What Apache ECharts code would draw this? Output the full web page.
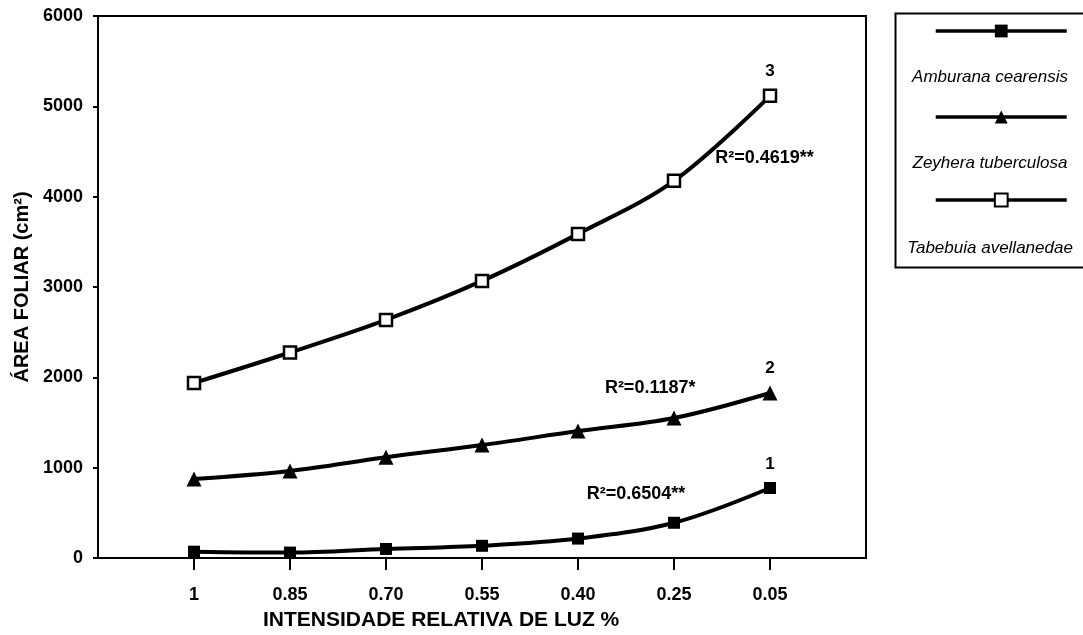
<!DOCTYPE html>
<html>
<head>
<meta charset="utf-8">
<script src="https://cdn.jsdelivr.net/npm/echarts@6/dist/echarts.min.js"></script>
<style>
  html, body { margin: 0; padding: 0; background: #fff; }
  #chart { width: 1083px; height: 635px; }
</style>
</head>
<body>
<div id="chart"></div>
<script>
// light intensity categories (x positions 0..6)
var xLabels = ['1', '0.85', '0.70', '0.55', '0.40', '0.25', '0.05'];
var xPos = [0, 1, 2, 3, 4, 5, 6];

var names = ['Amburana cearensis', 'Zeyhera tuberculosa', 'Tabebuia avellanedae'];
var amburana = [70, 60, 100, 135, 215, 390, 775];
var zeyhera = [875, 963, 1115, 1250, 1405, 1550, 1827];
var tabebuia = [1938, 2275, 2636, 3067, 3588, 4175, 5116];

var curveNums = ['1', '2', '3'];
var r2Texts = ['R²=0.6504**', 'R²=0.1187*', 'R²=0.4619**'];
var r2Coords = [[4.09, 709], [4.28, 1883], [5.43, 4430]];

var font = 'Liberation Sans, Arial, sans-serif';

function pts(vals) {
  return vals.map(function (v, i) { return [xPos[i], v]; });
}

function makeSeries(idx, vals, symbol, fill) {
  var data = pts(vals);
  data[data.length - 1] = {
    value: data[data.length - 1],
    label: {
      show: true, position: 'top', distance: 9,
      formatter: curveNums[idx],
      fontFamily: font, fontWeight: 'bold', fontSize: 17, color: '#000'
    }
  };
  return {
    name: names[idx],
    type: 'line',
    smooth: 0.35,
    data: data,
    symbol: symbol,
    symbolSize: symbol === 'triangle' ? 15 : 12,
    showAllSymbol: true,
    lineStyle: { color: '#000', width: 4 },
    itemStyle: { color: fill, borderColor: '#000', borderWidth: fill === '#fff' ? 2.5 : 0 },
    emphasis: { disabled: true },
    z: 3,
    markPoint: {
      symbol: 'circle', symbolSize: 0,
      silent: true,
      label: {
        show: true, position: 'right', distance: 0,
        fontFamily: font, fontWeight: 'bold', fontSize: 18, color: '#000'
      },
      data: [{ coord: r2Coords[idx], value: r2Texts[idx], label: { formatter: r2Texts[idx] } }]
    }
  };
}

var chart = echarts.init(document.getElementById('chart'), null, { renderer: 'canvas' });

var legendTops = [18, 104, 187];
var legendTextY = [77, 163, 248];

var option = {
  animation: false,
  backgroundColor: '#fff',
  grid: {
    left: 98, right: 217, top: 16, bottom: 77,
    show: true, borderColor: '#000', borderWidth: 2
  },
  legend: legendTops.map(function (t, i) {
    return {
      data: [names[i]],
      left: 929, top: t,
      itemWidth: 131, itemHeight: 16,
      formatter: function () { return ''; },
      selectedMode: false,
      lineStyle: { width: 3.5, color: '#000' },
      textStyle: { fontSize: 1 }
    };
  }),
  xAxis: {
    type: 'value',
    min: -1, max: 7,
    axisLine: { show: true, onZero: false, lineStyle: { color: '#000', width: 2 } },
    axisTick: { show: true, length: 12, customValues: xPos, lineStyle: { color: '#000', width: 2 } },
    axisLabel: {
      customValues: xPos,
      formatter: function (v) { return xLabels[Math.round(v)]; },
      margin: 28,
      fontFamily: font, fontWeight: 'bold', fontSize: 18, color: '#000'
    },
    splitLine: { show: false }
  },
  yAxis: {
    type: 'value',
    min: 0, max: 6000, interval: 1000,
    name: 'ÁREA FOLIAR (cm²)',
    nameLocation: 'middle',
    nameGap: 55,
    nameTextStyle: { fontFamily: font, fontWeight: 'bold', fontSize: 20, color: '#000' },
    axisLine: { show: true, onZero: false, lineStyle: { color: '#000', width: 2 } },
    axisTick: { show: true, length: 5, lineStyle: { color: '#000', width: 2 } },
    axisLabel: {
      margin: 15,
      formatter: function (v) { return String(v); },
      fontFamily: font, fontWeight: 'bold', fontSize: 18, color: '#000'
    },
    splitLine: { show: false }
  },
  graphic: [
    {
      type: 'rect', left: 893, top: 11,
      shape: { width: 200, height: 254 },
      style: { fill: 'none', stroke: '#000', lineWidth: 2 }
    },
    {
      type: 'text', left: 263, top: 610,
      style: { text: 'INTENSIDADE RELATIVA DE LUZ %', font: 'bold 21px ' + font, fill: '#000' }
    }
  ].concat(names.map(function (n, i) {
    return {
      type: 'text', x: 990, y: legendTextY[i],
      style: {
        text: n, font: 'italic 17px ' + font, fill: '#000',
        align: 'center', verticalAlign: 'middle'
      }
    };
  })),
  series: [
    makeSeries(0, amburana, 'rect', '#000'),
    makeSeries(1, zeyhera, 'triangle', '#000'),
    makeSeries(2, tabebuia, 'rect', '#fff')
  ]
};

chart.setOption(option);
window.addEventListener('resize', chart.resize);
</script>
</body>
</html>
